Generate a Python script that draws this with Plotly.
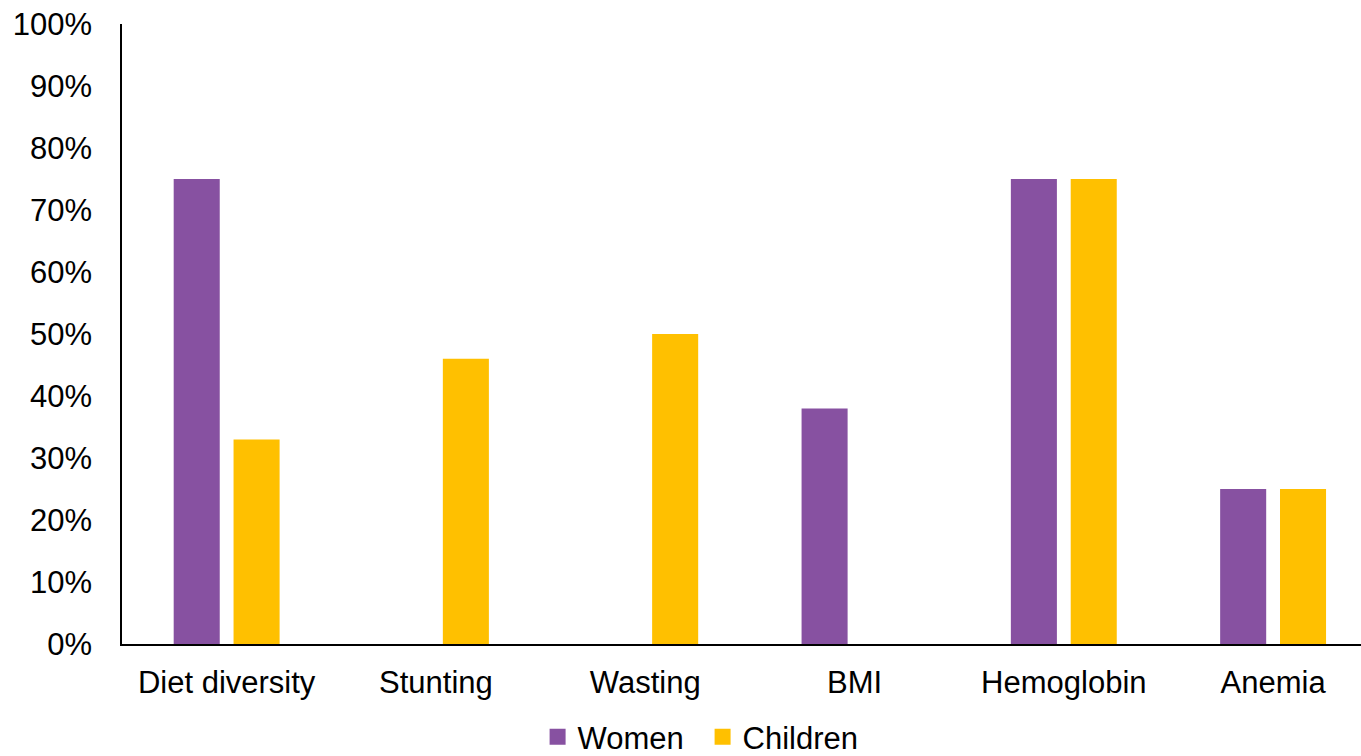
import plotly.graph_objects as go

categories = ["Diet diversity", "Stunting", "Wasting", "BMI", "Hemoglobin", "Anemia"]
women = [0.75, None, None, 0.38, 0.75, 0.25]
children = [0.33, 0.46, 0.50, None, 0.75, 0.25]
y_ticks = [0, 0.1, 0.2, 0.3, 0.4, 0.5, 0.6, 0.7, 0.8, 0.9, 1.0]

PURPLE = "#8751A1"
GOLD = "#FFC000"
FONT = "Liberation Sans, Arial, sans-serif"

fig = go.Figure()
fig.add_trace(go.Bar(
    name="Women", x=categories, y=women, marker_color=PURPLE,
    width=0.22, offset=-0.253, marker_line_width=0, showlegend=False,
))
fig.add_trace(go.Bar(
    name="Children", x=categories, y=children, marker_color=GOLD,
    width=0.22, offset=0.033, marker_line_width=0, showlegend=False,
))
# Legend keys drawn as larger square markers
for name, color in [("Women", PURPLE), ("Children", GOLD)]:
    fig.add_trace(go.Scatter(
        name=name, x=[None], y=[None], mode="markers",
        marker=dict(symbol="square", size=17, color=color),
    ))

fig.update_layout(
    width=1361, height=756,
    margin=dict(l=122, r=0, t=24, b=112, autoexpand=False),
    plot_bgcolor="white", paper_bgcolor="white",
    barmode="overlay",
    font=dict(family=FONT, size=31, color="#000000"),
    showlegend=True,
    legend=dict(
        orientation="h", xref="container", yref="container",
        x=0.395, xanchor="left", y=0.025, yanchor="middle",
        font=dict(size=31), traceorder="normal", itemwidth=30,
        entrywidth=120, bgcolor="rgba(0,0,0,0)",
    ),
    xaxis=dict(
        range=[-0.5, 5.42], showgrid=False, showline=True,
        linecolor="#000000", linewidth=1.5, ticks="", zeroline=False,
        ticklabelstandoff=10, tickfont=dict(size=31),
    ),
    yaxis=dict(
        range=[0, 1], tickvals=y_ticks, tickformat=".0%", showgrid=False,
        showline=True, linecolor="#000000", linewidth=1.5, ticks="",
        zeroline=False, ticklabelstandoff=22, tickfont=dict(size=31),
    ),
)

fig.write_html("out.html")
